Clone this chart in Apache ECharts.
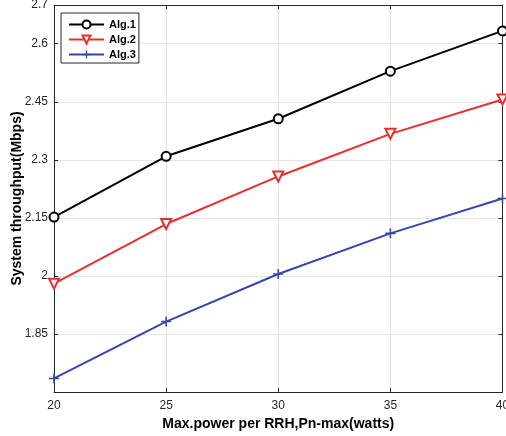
<!DOCTYPE html>
<html>
<head>
<meta charset="utf-8">
<script src="https://cdn.jsdelivr.net/npm/echarts@6/dist/echarts.min.js"></script>
<style>html,body{margin:0;padding:0;background:#fff;}#c{width:506px;height:436px;}</style>
</head>
<body>
<div id="c"></div>
<script>
var xValues = [20, 25, 30, 35, 40];
var alg1 = [2.152, 2.309, 2.406, 2.529, 2.633];
var alg2 = [1.980, 2.134, 2.257, 2.367, 2.456];
var alg3 = [1.735, 1.882, 2.005, 2.110, 2.200];
var seriesNames = ['Alg.1', 'Alg.2', 'Alg.3'];
var xTitle = 'Max.power per RRH,Pn-max(watts)';
var yTitle = 'System throughput(Mbps)';

var FONT = '"Liberation Sans", Arial, Helvetica, sans-serif';
var TXT = '#262626';
function pairs(ys){ return xValues.map(function(x,i){ return [x, ys[i]]; }); }
var plusPath = 'path://M-1,-0.16H1V0.16H-1Z M-0.16,-1H0.16V1H-0.16Z';

var chart = echarts.init(document.getElementById('c'), null, {renderer:'canvas'});
var hiddenAxis = {
  show: true,
  axisLine: {show: true, lineStyle: {color: TXT, width: 1}},
  axisTick: {show: true, inside: true, length: 4, lineStyle: {color: TXT}},
  axisLabel: {show: false},
  splitLine: {show: false}
};
chart.setOption({
  animation: false,
  backgroundColor: '#fff',
  textStyle: {fontFamily: FONT},
  grid: {left: 54, right: 3.5, top: 5, bottom: 44, containLabel: false, outerBoundsMode: 'none'},
  legend: {
    orient: 'vertical', left: 61, top: 13,
    data: seriesNames,
    backgroundColor: '#fff', borderColor: TXT, borderWidth: 1,
    padding: [6, 3, 3, 7], itemGap: 4, itemWidth: 35, itemHeight: 10,
    textStyle: {fontFamily: FONT, fontWeight: 'bold', fontSize: 11, color: '#000'}
  },
  xAxis: [{
    type: 'value', min: 20, max: 40, interval: 5,
    name: xTitle, nameLocation: 'middle', nameGap: 25, nameMoveOverlap: false,
    nameTextStyle: {fontFamily: FONT, fontWeight: 'bold', fontSize: 14, color: '#000'},
    axisLine: {show: true, onZero: false, lineStyle: {color: TXT, width: 1}},
    axisTick: {show: true, inside: true, length: 4, lineStyle: {color: TXT}},
    axisLabel: {fontFamily: FONT, fontSize: 12, color: TXT, margin: 8},
    splitLine: {show: true, lineStyle: {color: '#e4e4e4', width: 1}}
  }, Object.assign({type: 'value', position: 'top', min: 20, max: 40, interval: 5}, hiddenAxis)],
  yAxis: [{
    type: 'value', min: 1.7, max: 2.7, interval: 0.15,
    name: yTitle, nameLocation: 'middle', nameGap: 30, nameMoveOverlap: false,
    nameTextStyle: {fontFamily: FONT, fontWeight: 'bold', fontSize: 14, color: '#000'},
    axisLine: {show: true, onZero: false, lineStyle: {color: TXT, width: 1}},
    axisTick: {show: true, inside: true, length: 4, lineStyle: {color: TXT}},
    axisLabel: {fontFamily: FONT, fontSize: 12, color: TXT, margin: 6, showMinLabel: false,
      formatter: function(v){ return String(Math.round(v*100)/100); }},
    splitLine: {show: true, lineStyle: {color: '#e4e4e4', width: 1}}
  }, Object.assign({type: 'value', position: 'right', min: 1.7, max: 2.7, interval: 0.15}, hiddenAxis)],
  series: [
    {name: seriesNames[0], type: 'line', data: pairs(alg1), symbol: 'emptyCircle', symbolSize: 9,
     lineStyle: {color: '#000', width: 2}, itemStyle: {color: '#000', borderWidth: 2}},
    {name: seriesNames[1], type: 'line', data: pairs(alg2), symbol: 'emptyTriangle', symbolRotate: 180, symbolSize: 10,
     lineStyle: {color: '#e8302a', width: 2}, itemStyle: {color: '#e8302a', borderWidth: 2}},
    {name: seriesNames[2], type: 'line', data: pairs(alg3), symbol: plusPath, symbolSize: 10,
     lineStyle: {color: '#3448a8', width: 2}, itemStyle: {color: '#3448a8'}}
  ]
});
</script>
</body>
</html>
